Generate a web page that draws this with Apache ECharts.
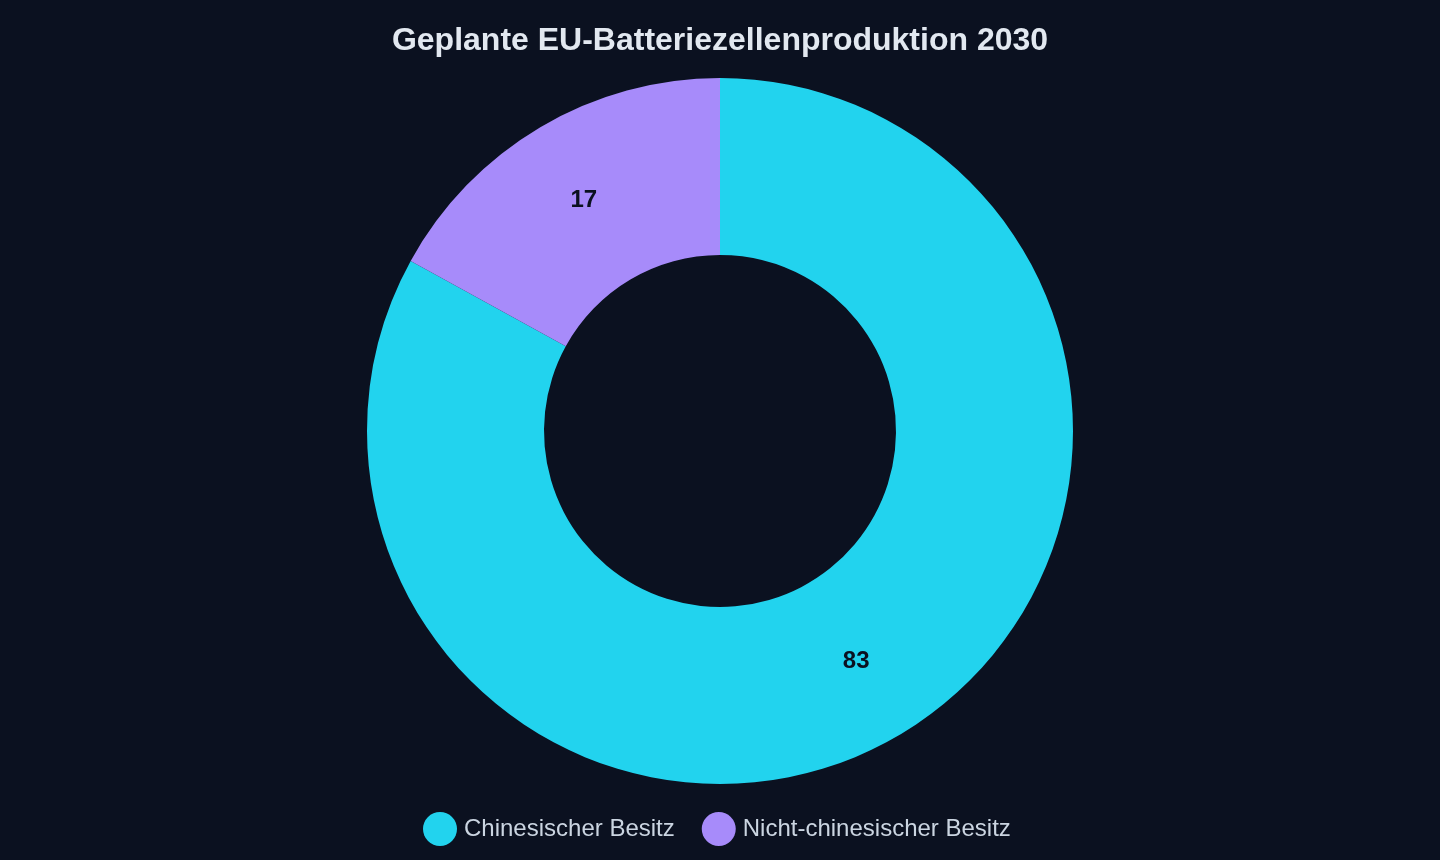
<!DOCTYPE html>
<html>
<head>
<meta charset="utf-8">
<script src="https://cdn.jsdelivr.net/npm/echarts@6/dist/echarts.min.js"></script>
<style>
    html, body { margin: 0; padding: 0; background: #0b1120; }
    #main { width: 1440px; height: 860px; }
</style>
</head>
<body>
<div id="main"></div>
<script>
var categories = ["Chinesischer Besitz", "Nicht-chinesischer Besitz"];
var values = [83, 17];
var colors = ["#22d3ee", "#a78bfa"];

var chartDom = document.getElementById("main");
var myChart = echarts.init(chartDom);

var pieData = [];
for (let i = 0; i < categories.length; i++) {
    pieData.push({
        name: categories[i],
        value: values[i],
        itemStyle: { color: colors[i] },
    });
}

var option = {
    backgroundColor: "#0b1120",
    title: {
        text: "Geplante EU-Batteriezellenproduktion 2030",
        left: "center",
        top: 20,
        textStyle: {
            color: "#e2e8f0",
            fontSize: 32,
            fontWeight: "bold",
            fontFamily: "Liberation Sans",
        },
    },
    legend: {
        data: categories,
        top: 807,
        left: 418,
        icon: "circle",
        itemWidth: 34,
        itemHeight: 34,
        itemGap: 27,
        textStyle: {
            color: "#cbd5e1",
            fontSize: 24,
            fontFamily: "Liberation Sans",
            padding: [0, 0, 0, 2],
        },
    },
    series: [
        {
            type: "pie",
            center: [720, 431],
            radius: [176, 353],
            startAngle: 90,
            clockwise: true,
            avoidLabelOverlap: false,
            label: {
                show: true,
                position: "inside",
                formatter: "{c}",
                color: "#0b1120",
                fontSize: 24,
                fontWeight: "bold",
                fontFamily: "Liberation Sans",
            },
            labelLine: { show: false },
            emphasis: { scale: false },
            data: pieData,
        },
    ],
};

option && myChart.setOption(option);
</script>
</body>
</html>
